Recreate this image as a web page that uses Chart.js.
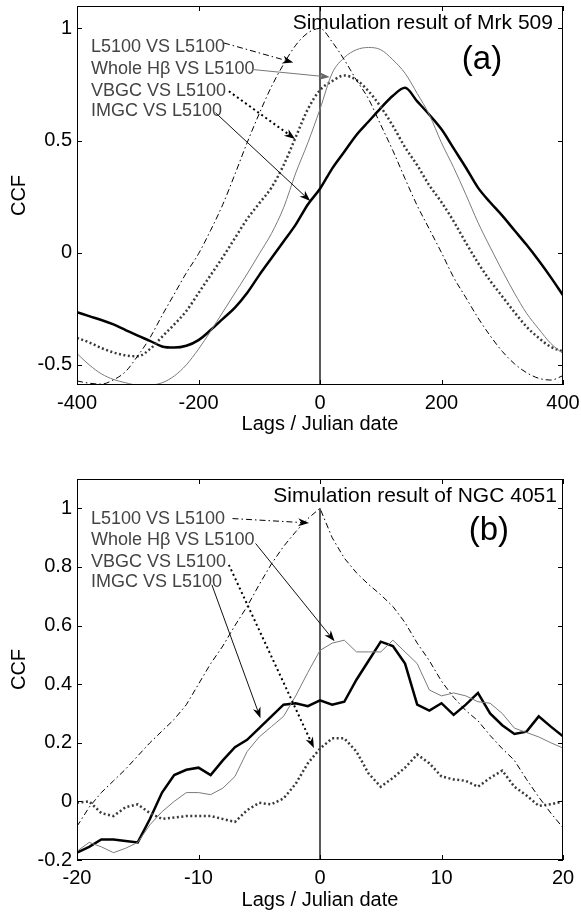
<!DOCTYPE html>
<html>
<head>
<meta charset="utf-8">
<script src="https://cdn.jsdelivr.net/npm/chart.js@4.4.0/dist/chart.umd.min.js"></script>
<style>
  body { margin: 0; background: #fff; }
  canvas { display: block; }
</style>
</head>
<body>
<canvas id="panelA" width="581" height="457"></canvas>
<canvas id="panelB" width="581" height="458"></canvas>
<script>
// ---- data ----

// (a) Mrk 509, lags in days
const lagsA = [-400, -380, -360, -340, -320, -300, -280, -260, -240, -220, -200, -180, -160, -140, -120, -100, -80, -60, -40, -20,
  0, 20, 40, 60, 80, 100, 120, 140, 160, 180, 200, 220, 240, 260, 280, 300, 320, 340, 360, 380, 400];
const l5100A = [-0.572, -0.582, -0.586, -0.567, -0.53, -0.46, -0.38, -0.28, -0.185, -0.09, -0.005, 0.1, 0.215, 0.35, 0.49, 0.62, 0.74, 0.84, 0.925, 0.98,
  1.0, 0.94, 0.86, 0.77, 0.685, 0.57, 0.455, 0.33, 0.21, 0.105, 0.0, -0.11, -0.2, -0.29, -0.37, -0.44, -0.495, -0.535, -0.56, -0.568, -0.548];
const hbA = [-0.45, -0.5, -0.54, -0.565, -0.58, -0.59, -0.59, -0.58, -0.55, -0.5, -0.43, -0.35, -0.265, -0.18, -0.095, -0.005, 0.085, 0.2, 0.355, 0.49,
  0.64, 0.8, 0.87, 0.905, 0.915, 0.905, 0.86, 0.8, 0.71, 0.615, 0.49, 0.38, 0.26, 0.135, 0.025, -0.08, -0.18, -0.27, -0.34, -0.405, -0.45];
const vbgcA = [-0.38, -0.4, -0.425, -0.445, -0.458, -0.462, -0.43, -0.375, -0.32, -0.26, -0.18, -0.1, -0.02, 0.065, 0.15, 0.22, 0.29, 0.39, 0.515, 0.64,
  0.725, 0.765, 0.79, 0.77, 0.72, 0.65, 0.565, 0.47, 0.39, 0.3, 0.225, 0.14, 0.045, -0.045, -0.125, -0.195, -0.265, -0.33, -0.38, -0.42, -0.44];
const imgcA = [-0.265, -0.283, -0.3, -0.32, -0.345, -0.37, -0.393, -0.418, -0.423, -0.415, -0.39, -0.345, -0.295, -0.245, -0.18, -0.1, -0.025, 0.05, 0.125, 0.215,
  0.285, 0.375, 0.45, 0.525, 0.585, 0.645, 0.7, 0.735, 0.675, 0.615, 0.55, 0.465, 0.38, 0.29, 0.225, 0.165, 0.1, 0.035, -0.035, -0.11, -0.19];

// (b) NGC 4051, lags in days
const lagsB = [-20, -19, -18, -17, -16, -15, -14, -13, -12, -11, -10, -9, -8, -7, -6, -5, -4, -3, -2, -1,
  0, 1, 2, 3, 4, 5, 6, 7, 8, 9, 10, 11, 12, 13, 14, 15, 16, 17, 18, 19, 20];
const l5100B = [-0.085, -0.02, 0.03, 0.07, 0.11, 0.155, 0.2, 0.24, 0.28, 0.33, 0.4, 0.47, 0.53, 0.6, 0.665, 0.74, 0.81, 0.87, 0.92, 0.965,
  1.0, 0.9, 0.83, 0.78, 0.74, 0.705, 0.665, 0.61, 0.54, 0.48, 0.41, 0.355, 0.31, 0.275, 0.225, 0.18, 0.14, 0.075, 0.015, -0.04, -0.09];
const hbB = [-0.17, -0.14, -0.155, -0.175, -0.16, -0.14, -0.08, -0.035, 0.0, 0.03, 0.03, 0.023, 0.045, 0.085, 0.17, 0.22, 0.255, 0.29, 0.36, 0.44,
  0.515, 0.54, 0.55, 0.51, 0.51, 0.51, 0.55, 0.51, 0.47, 0.38, 0.36, 0.37, 0.36, 0.34, 0.335, 0.3, 0.25, 0.235, 0.22, 0.2, 0.182];
const vbgcB = [-0.005, 0.0, -0.04, -0.05, -0.02, -0.01, -0.04, -0.06, -0.055, -0.05, -0.05, -0.05, -0.06, -0.07, -0.03, -0.005, -0.01, 0.01, 0.06, 0.13,
  0.18, 0.215, 0.215, 0.17, 0.095, 0.05, 0.08, 0.115, 0.16, 0.13, 0.085, 0.075, 0.07, 0.05, 0.08, 0.105, 0.05, 0.02, -0.015, -0.01, 0.0];
const imgcB = [-0.175, -0.155, -0.13, -0.13, -0.135, -0.14, -0.06, 0.03, 0.09, 0.108, 0.115, 0.09, 0.14, 0.185, 0.21, 0.25, 0.29, 0.33, 0.335, 0.325,
  0.345, 0.33, 0.34, 0.415, 0.48, 0.545, 0.53, 0.47, 0.33, 0.31, 0.335, 0.295, 0.33, 0.37, 0.3, 0.26, 0.23, 0.238, 0.29, 0.255, 0.222];

// tick values
const xTicksA = [-400, -200, 0, 200, 400];
const yTicksA = [-0.5, 0, 0.5, 1];
const xTicksB = [-20, -10, 0, 10, 20];
const yTicksB = [-0.2, 0, 0.2, 0.4, 0.6, 0.8, 1];

const seriesNames = ['L5100 VS L5100', 'Whole H\u03b2 VS L5100', 'VBGC VS L5100', 'IMGC VS L5100'];

// ---- styling ----
const FONT = "'Liberation Sans', Arial, Helvetica, sans-serif";

const lineStyles = [
  {borderColor: '#000', borderWidth: 1, borderDash: [6, 3, 1.5, 3]},   // L5100
  {borderColor: '#7a7a7a', borderWidth: 1},                            // whole Hb
  {borderColor: '#3a3a3a', borderWidth: 2.5, borderDash: [2, 2.5]},    // VBGC
  {borderColor: '#000', borderWidth: 2.5}                              // IMGC
];

var toPoints = (lags, vals) => lags.map((x, i) => ({x: x, y: vals[i]}));

function drawArrow(ctx, x0, y0, x1, y1, st) {
  const ang = Math.atan2(y1 - y0, x1 - x0);
  const c = Math.cos(ang), s = Math.sin(ang);
  const len = 11, half = 4;
  ctx.save();
  ctx.strokeStyle = st.color;
  ctx.lineWidth = st.width;
  ctx.setLineDash(st.dash || []);
  ctx.beginPath();
  ctx.moveTo(x0, y0);
  ctx.lineTo(x1 - c * len * 0.7, y1 - s * len * 0.7);
  ctx.stroke();
  ctx.setLineDash([]);
  ctx.fillStyle = st.head;
  ctx.beginPath();
  ctx.moveTo(x1, y1);
  ctx.lineTo(x1 - len * c + half * s, y1 - len * s - half * c);
  ctx.lineTo(x1 - 0.7 * len * c, y1 - 0.7 * len * s);
  ctx.lineTo(x1 - len * c - half * s, y1 - len * s + half * c);
  ctx.closePath();
  ctx.fill();
  ctx.restore();
}

// frame with inward ticks (matlab look), texts and arrows
const framePlugin = {
  id: 'frame',
  afterDatasetsDraw(chart, args, opts) {
    const {ctx, chartArea: a, scales: {x, y}} = chart;
    ctx.save();
    ctx.strokeStyle = '#000';
    ctx.lineWidth = 1;
    ctx.setLineDash([]);
    ctx.strokeRect(Math.round(a.left) + 0.5, Math.round(a.top) + 0.5,
      Math.round(a.width) - 1, Math.round(a.height) - 1);
    ctx.beginPath();
    x.ticks.forEach(t => {
      const px = Math.round(x.getPixelForValue(t.value)) + 0.5;
      ctx.moveTo(px, a.top); ctx.lineTo(px, a.top + 5);
      ctx.moveTo(px, a.bottom); ctx.lineTo(px, a.bottom - 5);
    });
    y.ticks.forEach(t => {
      const py = Math.round(y.getPixelForValue(t.value)) + 0.5;
      ctx.moveTo(a.left, py); ctx.lineTo(a.left + 5, py);
      ctx.moveTo(a.right, py); ctx.lineTo(a.right - 5, py);
    });
    ctx.stroke();

    // series labels
    ctx.font = '18px ' + FONT;
    ctx.fillStyle = '#444';
    ctx.textAlign = 'left';
    ctx.textBaseline = 'middle';
    opts.labels.forEach((p, i) => {
      ctx.fillText(seriesNames[i], x.getPixelForValue(p[0]), y.getPixelForValue(p[1]));
    });

    // arrows from labels to curves
    opts.arrows.forEach(ar => {
      drawArrow(ctx, x.getPixelForValue(ar.from[0]), y.getPixelForValue(ar.from[1]),
        x.getPixelForValue(ar.to[0]), y.getPixelForValue(ar.to[1]), ar.style);
    });

    // title and panel tag
    ctx.fillStyle = '#000';
    ctx.textAlign = 'right';
    ctx.font = '21px ' + FONT;
    ctx.fillText(opts.title, x.getPixelForValue(opts.titleAt[0]), y.getPixelForValue(opts.titleAt[1]));
    ctx.textAlign = 'center';
    ctx.font = '33px ' + FONT;
    ctx.fillText(opts.tag, x.getPixelForValue(opts.tagAt[0]), y.getPixelForValue(opts.tagAt[1]));
    ctx.restore();
  }
};

const arrowDashDot = {color: '#000', width: 1, dash: [6, 3, 1.5, 3], head: '#000'};
const arrowDotted = {color: '#000', width: 2, dash: [2, 3], head: '#000'};
const arrowSolid = {color: '#111', width: 1, dash: [], head: '#000'};
const arrowGray = {color: '#777', width: 1, dash: [], head: '#666'};

function makePanel(id, p) {
  const datasets = p.series.map((vals, i) => Object.assign({
    label: seriesNames[i],
    data: toPoints(p.lags, vals),
    pointRadius: 0,
    fill: false,
    tension: p.smooth ? 0.4 : 0,
    cubicInterpolationMode: p.smooth ? 'monotone' : 'default'
  }, lineStyles[i]));
  // vertical line at zero lag
  datasets.push({
    label: 'zero',
    data: [{x: 0, y: p.zeroLine[0]}, {x: 0, y: p.zeroLine[1]}],
    borderColor: '#000', borderWidth: 1.3, pointRadius: 0
  });

  return new Chart(document.getElementById(id), {
    type: 'line',
    data: {datasets},
    options: {
      responsive: false,
      animation: false,
      layout: {padding: {left: 0, right: 18, top: p.padTop, bottom: 0}},
      plugins: {
        legend: {display: false},
        tooltip: {enabled: false},
        frame: p.frame
      },
      scales: {
        x: {
          type: 'linear', min: p.xRange[0], max: p.xRange[1],
          afterBuildTicks: s => { s.ticks = p.xTicks.map(v => ({value: v})); },
          afterFit: s => { s.height = p.xAxisHeight; s.paddingLeft = 0; s.paddingRight = 0; },
          grid: {display: false, drawTicks: false},
          border: {display: false},
          ticks: {color: '#000', font: {family: FONT, size: 20}, padding: 6, maxRotation: 0, autoSkip: false,
            callback: v => String(v)},
          title: {display: true, text: 'Lags / Julian date', color: '#000',
            font: {family: FONT, size: 20}, padding: {top: 0, bottom: p.titlePad}}
        },
        y: {
          type: 'linear', min: p.yRange[0], max: p.yRange[1],
          afterBuildTicks: s => { s.ticks = p.yTicks.map(v => ({value: v})); },
          afterFit: s => { s.width = 77; s.paddingTop = 0; s.paddingBottom = 0; },
          grid: {display: false, drawTicks: false},
          border: {display: false},
          ticks: {color: '#000', font: {family: FONT, size: 20}, padding: 5, autoSkip: false,
            callback: v => String(v)},
          title: {display: true, text: 'CCF', color: '#000',
            font: {family: FONT, size: 20}, padding: {top: 7, bottom: 0}}
        }
      }
    },
    plugins: [framePlugin]
  });
}

makePanel('panelA', {
  lags: lagsA, series: [l5100A, hbA, vbgcA, imgcA], smooth: true,
  xRange: [-400, 400], yRange: [-0.59, 1.1], xTicks: xTicksA, yTicks: yTicksA,
  zeroLine: [-0.59, 1.1], padTop: 6, xAxisHeight: 72, titlePad: 21,
  frame: {
    labels: [[-377, 0.915], [-377, 0.82], [-377, 0.72], [-377, 0.63]],
    arrows: [
      {from: [-158, 0.935], to: [-44, 0.848], style: arrowDashDot},
      {from: [-112, 0.817], to: [16, 0.783], style: arrowGray},
      {from: [-150, 0.72], to: [-41, 0.507], style: arrowDotted},
      {from: [-172, 0.624], to: [-16, 0.23], style: arrowSolid}
    ],
    title: 'Simulation result of Mrk 509', titleAt: [383.5, 1.024],
    tag: '(a)', tagAt: [266.7, 0.859]
  }
});

makePanel('panelB', {
  lags: lagsB, series: [l5100B, hbB, vbgcB, imgcB], smooth: false,
  xRange: [-20, 20], yRange: [-0.2, 1.1], xTicks: xTicksB, yTicks: yTicksB,
  zeroLine: [-0.2, 1.0], padTop: 22, xAxisHeight: 55, titlePad: 3,
  frame: {
    labels: [[-18.85, 0.962], [-18.85, 0.893], [-18.85, 0.818], [-18.85, 0.75]],
    arrows: [
      {from: [-7.2, 0.965], to: [-0.9, 0.95], style: arrowDashDot},
      {from: [-5.3, 0.88], to: [1.2, 0.546], style: arrowSolid},
      {from: [-7.5, 0.807], to: [-0.5, 0.182], style: arrowDotted},
      {from: [-8.9, 0.739], to: [-4.9, 0.284], style: arrowSolid}
    ],
    title: 'Simulation result of NGC 4051', titleAt: [19.5, 1.04],
    tag: '(b)', tagAt: [13.9, 0.924]
  }
});
</script>
</body>
</html>
